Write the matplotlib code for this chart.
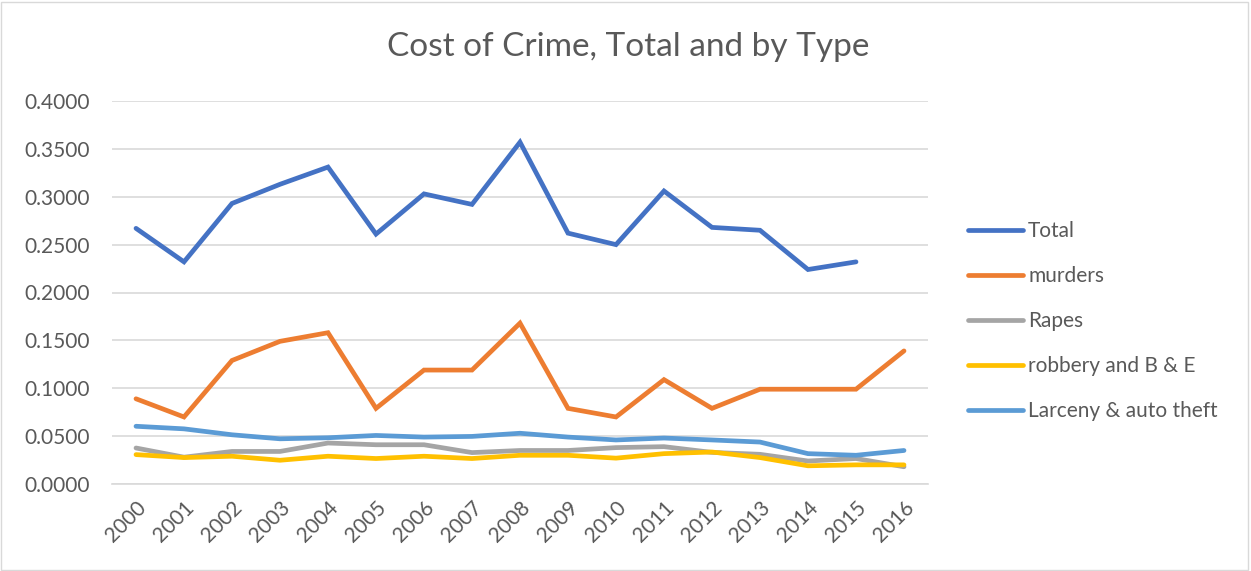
import numpy as np
import matplotlib.pyplot as plt
from matplotlib.patches import Rectangle

plt.rcParams['font.family'] = ['Lato', 'DejaVu Sans']

# data
years = [str(y) for y in range(2000, 2017)]
total = [0.267, 0.232, 0.293, 0.313, 0.331, 0.261, 0.303, 0.292, 0.357,
         0.262, 0.250, 0.306, 0.268, 0.265, 0.224, 0.232, np.nan]
murders = [0.089, 0.070, 0.129, 0.149, 0.158, 0.079, 0.119, 0.119, 0.168,
           0.079, 0.070, 0.109, 0.079, 0.099, 0.099, 0.099, 0.139]
rapes = [0.0376, 0.028, 0.034, 0.034, 0.0428, 0.041, 0.041, 0.0328, 0.035,
         0.035, 0.038, 0.039, 0.033, 0.031, 0.024, 0.0266, 0.018]
robbery = [0.0307, 0.0276, 0.029, 0.0248, 0.029, 0.0266, 0.029, 0.0266, 0.030,
           0.030, 0.027, 0.0317, 0.0334, 0.0276, 0.019, 0.020, 0.020]
larceny = [0.0603, 0.0576, 0.0514, 0.0472, 0.0483, 0.0507, 0.049, 0.0497, 0.053,
           0.049, 0.046, 0.048, 0.046, 0.0438, 0.0317, 0.030, 0.035]

series = [
    ('Total', total, '#4472C4'),
    ('murders', murders, '#ED7D31'),
    ('Rapes', rapes, '#A5A5A5'),
    ('robbery and B & E', robbery, '#FFC000'),
    ('Larceny & auto theft', larceny, '#5B9BD5'),
]

fig = plt.figure(figsize=(12.51, 5.71), dpi=100)
ax = fig.add_axes([112/1251, 1 - 484/571, (928-112)/1251, (484-101)/571])

x = np.arange(len(years))
for name, vals, col in series:
    ax.plot(x, vals, color=col, lw=3.4, label=name, solid_capstyle='round',
            solid_joinstyle='miter')

ax.set_xlim(-0.5, len(years) - 0.5)
ax.set_ylim(0, 0.4)
ax.set_yticks(np.arange(0, 0.401, 0.05))
ax.set_yticklabels(['%.4f' % v for v in np.arange(0, 0.401, 0.05)])
ax.set_xticks(x)
ax.set_xticklabels(years, rotation=45, ha='right', rotation_mode='anchor')
ax.tick_params(colors='#595959', labelsize=15, length=0)
ax.tick_params(axis='y', pad=16)
ax.tick_params(axis='x', pad=10)
ax.grid(axis='y', color='#D9D9D9', lw=1.2)
ax.set_axisbelow(True)
for s in ['top', 'right', 'left']:
    ax.spines[s].set_visible(False)
ax.spines['bottom'].set_color('#D9D9D9')
ax.spines['bottom'].set_linewidth(1.2)

fig.text(628/1251, 1 - 47/571, 'Cost of Crime, Total and by Type',
         ha='center', va='center', fontsize=24, color='#595959')

ax.legend(loc='center left', bbox_to_anchor=(949/1251, 1 - 321/571),
          bbox_transform=fig.transFigure, frameon=False, fontsize=15,
          labelcolor='#595959', handlelength=2.65, handletextpad=0.25,
          labelspacing=1.2)

fig.patches.append(Rectangle((0.001, 0.002), 0.997, 0.995, transform=fig.transFigure,
                             fill=False, edgecolor='#D9D9D9', lw=1))

fig.savefig('out.png', dpi=100)
